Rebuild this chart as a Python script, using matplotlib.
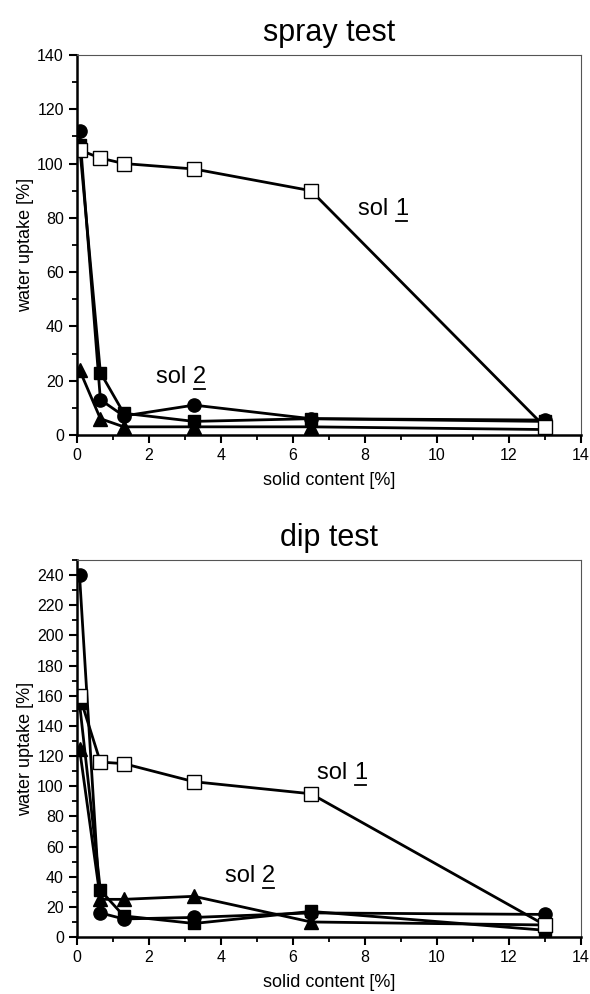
import matplotlib
matplotlib.use("Agg")
import matplotlib.pyplot as plt
from matplotlib.lines import Line2D
from matplotlib.ticker import MultipleLocator

plt.rcParams["font.family"] = ["Liberation Sans", "DejaVu Sans"]

# solid content [%] - same for all series
x = [0.07, 0.65, 1.3, 3.25, 6.5, 13.0]

# spray test, water uptake [%]
spray_open_sq = [105, 102, 100, 98, 90, 3]
spray_circle = [112, 13, 7, 11, 6, 5.5]
spray_square = [107, 23, 8, 5, 6, 5]
spray_triangle = [24, 6, 3, 3, 3, 2]

# dip test, water uptake [%]
dip_open_sq = [160, 116, 115, 103, 95, 8]
dip_circle = [240, 16, 12, 13, 16, 15]
dip_square = [155, 31, 14, 9, 17, 4.5]
dip_triangle = [125, 25, 25, 27, 10, 8]


def style_axes(ax, ymax, ymajor, ymin_step):
    ax.set_xlim(0, 14)
    ax.set_ylim(0, ymax)
    ax.xaxis.set_major_locator(MultipleLocator(2))
    ax.xaxis.set_minor_locator(MultipleLocator(1))
    ax.yaxis.set_major_locator(MultipleLocator(ymajor))
    ax.yaxis.set_minor_locator(MultipleLocator(ymin_step))
    ax.tick_params(which="major", direction="out", length=6, width=1.5,
                   labelsize=11.5, top=False, right=False)
    ax.tick_params(which="minor", direction="out", length=3.5, width=1.3,
                   top=False, right=False)
    for s in ("left", "bottom"):
        ax.spines[s].set_linewidth(1.8)
    for s in ("top", "right"):
        ax.spines[s].set_linewidth(0.8)
        ax.spines[s].set_color("#555555")
    ax.set_xlabel("solid content [%]", fontsize=13, labelpad=6)
    ax.set_ylabel("water uptake [%]", fontsize=13, labelpad=2)


def draw(ax, op, ci, sq, tr):
    kw = dict(color="black", lw=2.0)
    ax.plot(x, tr, marker="^", ms=10, mfc="black", mec="black", **kw)
    ax.plot(x, sq, marker="s", ms=9, mfc="black", mec="black", **kw)
    ax.plot(x, ci, marker="o", ms=9.5, mfc="black", mec="black", **kw)
    ax.plot(x, op, marker="s", ms=9.5, mfc="white", mec="black", mew=1.0, **kw)


labels = []


def sol_label(ax, xp, yp, num):
    t1 = ax.text(xp, yp, "sol ", fontsize=17, ha="right", va="baseline")
    t2 = ax.annotate(num, xy=(1, 0), xycoords=t1, fontsize=17,
                     ha="left", va="bottom")
    labels.append(t2)


fig = plt.figure(figsize=(5.9, 9.94), dpi=100)

ax1 = fig.add_axes([0.1305, 0.5624, 0.854, 0.3823])
draw(ax1, spray_open_sq, spray_circle, spray_square, spray_triangle)
style_axes(ax1, 140, 20, 10)
ax1.set_title("spray test", fontsize=22, pad=10)
sol_label(ax1, 8.83, 81, "1")
sol_label(ax1, 3.22, 19, "2")

ax2 = fig.add_axes([0.1305, 0.0573, 0.854, 0.3793])
draw(ax2, dip_open_sq, dip_circle, dip_square, dip_triangle)
style_axes(ax2, 250, 20, 10)
ax2.set_title("dip test", fontsize=22, pad=10)
sol_label(ax2, 7.69, 105, "1")
sol_label(ax2, 5.13, 36.5, "2")

# underline the solution numbers
fig.canvas.draw()
inv = fig.transFigure.inverted()
for t in labels:
    bb = t.get_window_extent()
    (x0, y0), (x1, _) = inv.transform([(bb.x0 + 1, bb.y0 - 1), (bb.x1 - 1, bb.y0)])
    fig.add_artist(Line2D([x0, x1], [y0, y0], transform=fig.transFigure,
                          color="black", lw=1.3))

fig.savefig("out.png", dpi=100)
